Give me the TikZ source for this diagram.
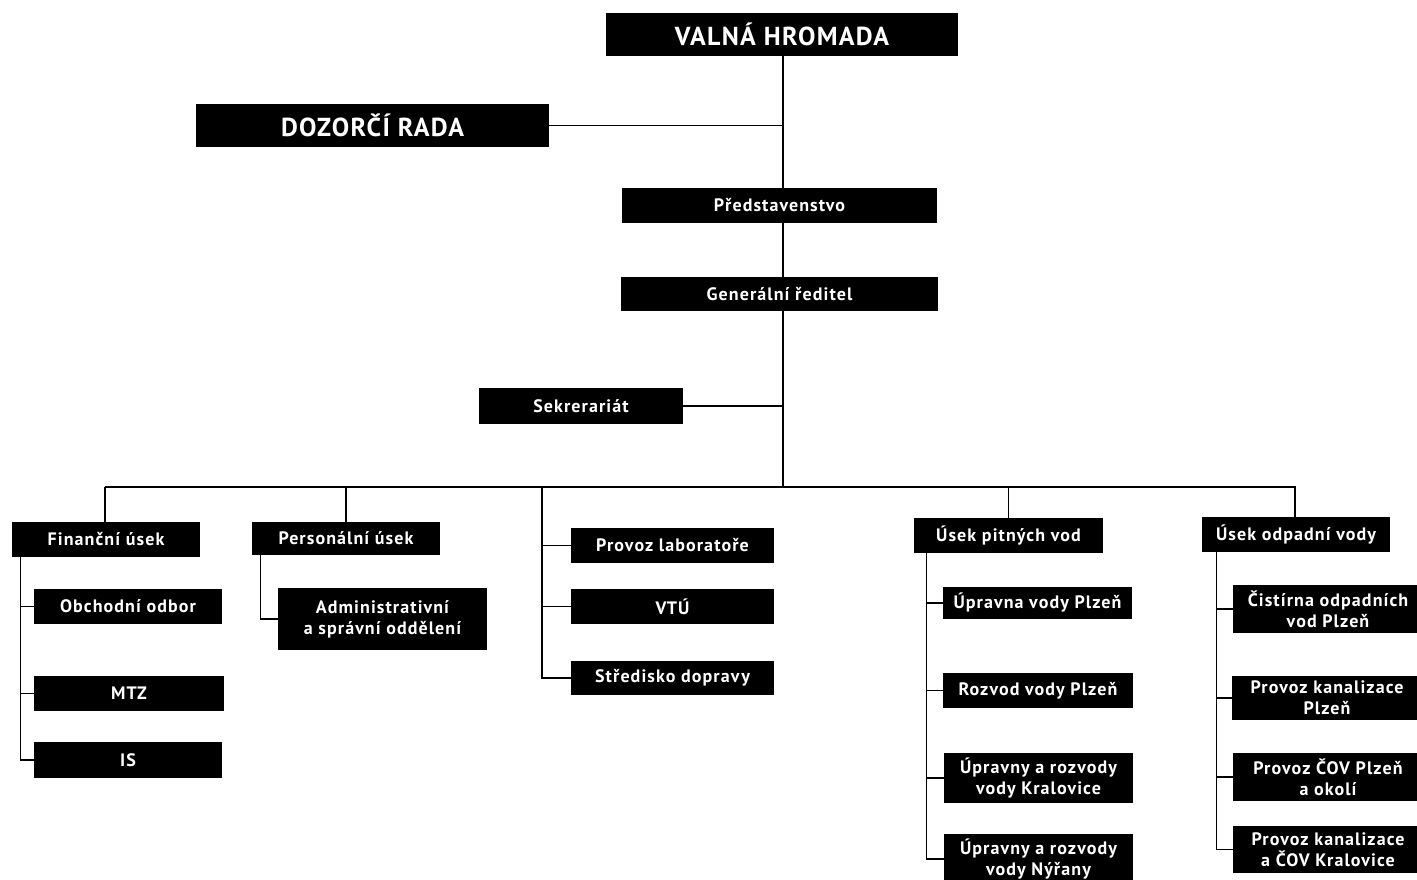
\documentclass[tikz,border=0pt]{standalone}
\usepackage{fontspec}
\setmainfont{PT Sans}
\usepackage{tikz}

\begin{document}
\begin{tikzpicture}[x=1pt, y=-1pt,
  box/.style={fill=black, text=white, inner sep=0pt, align=center,
    font=\bfseries\fontsize{18}{21}\selectfont\addfontfeatures{LetterSpace=6}},
  bigbox/.style={box, font=\bfseries\fontsize{26}{28}\selectfont\addfontfeatures{LetterSpace=5}},
  link/.style={line width=1.3pt},
  trunk/.style={line width=2.6pt}]
\useasboundingbox (0,0) rectangle (1417,879);

\node[bigbox, minimum width=352pt, minimum height=43pt] (vh) at (782,34.5) {VALNÁ HROMADA};
\node[bigbox, minimum width=353pt, minimum height=43pt] (dr) at (372.5,125.5) {DOZORČÍ RADA};
\node[box, minimum width=315pt, minimum height=35pt] (pr) at (779.5,205.5) {Představenstvo};
\node[box, minimum width=317pt, minimum height=34pt] (gr) at (779.5,294) {Generální ředitel};
\node[box, minimum width=204pt, minimum height=36pt] (sk) at (581,406) {Sekrerariát};

\node[box, minimum width=188pt, minimum height=35pt] (fu) at (106,539.5) {Finanční úsek};
\node[box, minimum width=188pt, minimum height=35pt] (oo) at (128,606.5) {Obchodní odbor};
\node[box, minimum width=190pt, minimum height=35pt] (mtz) at (129,693.5) {MTZ};
\node[box, minimum width=188pt, minimum height=36pt] (is) at (128,760) {IS};

\node[box, minimum width=188pt, minimum height=33pt] (pu) at (346,538.5) {Personální úsek};
\node[box, minimum width=209pt, minimum height=62pt] (as) at (382.5,619) {Administrativní\\a správní oddělení};

\node[box, minimum width=203pt, minimum height=35pt] (lab) at (672.5,545.5) {Provoz laboratoře};
\node[box, minimum width=203pt, minimum height=35pt] (vtu) at (672.5,606.5) {VTÚ};
\node[box, minimum width=203pt, minimum height=34pt] (sd) at (672.5,678) {Středisko dopravy};

\node[box, minimum width=189pt, minimum height=35pt] (upv) at (1008.5,535.5) {Úsek pitných vod};
\node[box, minimum width=189pt, minimum height=32pt] (uvp) at (1037.5,603) {Úpravna vody Plzeň};
\node[box, minimum width=190pt, minimum height=35pt] (rvp) at (1038,690.5) {Rozvod vody Plzeň};
\node[box, minimum width=189pt, minimum height=50pt] (urk) at (1038.5,778) {Úpravny a rozvody\\vody Kralovice};
\node[box, minimum width=189pt, minimum height=50pt] (urn) at (1038.5,859) {Úpravny a rozvody\\vody Nýřany};

\node[box, minimum width=188pt, minimum height=35pt] (uov) at (1296,534.5) {Úsek odpadní vody};
\node[box, minimum width=190pt, minimum height=48pt] (cov) at (1328,609) {Čistírna odpadních\\vod Plzeň};
\node[box, minimum width=190pt, minimum height=44pt] (pkp) at (1327,698) {Provoz kanalizace\\Plzeň};
\node[box, minimum width=190pt, minimum height=48pt] (pcp) at (1328,777) {Provoz ČOV Plzeň\\a okolí};
\node[box, minimum width=190pt, minimum height=47pt] (pkk) at (1328,849.5) {Provoz kanalizace\\a ČOV Kralovice};

\coordinate (bl) at (105,487);
\coordinate (br) at (1295,487);
\coordinate (bm) at (783,487);
\coordinate (tk) at (783,352);
\coordinate (lt) at (542,487);

\draw[link] (vh.south -| bm) -- (pr.north -| bm);
\draw[link] (pr.south -| bm) -- (gr.north -| bm);
\draw[link] (dr.east) -- (dr.east -| bm);
\draw[link] (gr.south -| bm) -- (tk);
\draw[trunk] (tk) -- (bm);
\draw[link] (sk.east) -- (sk.east -| bm);
\draw[link] (bl) -- (br) -- (uov.north -| br);
\draw[link] (bl) -- (fu.north -| bl);
\draw[link] (pu.north |- bl) -- (pu.north);
\draw[link] (upv.north |- bl) -- (upv.north);

\coordinate (ft) at ([xshift=9pt]fu.south west);
\draw[link] (ft) |- (is.west);
\foreach \n in {oo,mtz} \draw[link] (\n.west) -- (\n.west -| ft);

\coordinate (pt) at ([xshift=9pt]pu.south west);
\draw[link] (pt) |- (as.west);

\draw[link] (lt) |- (sd.west);
\foreach \n in {lab,vtu} \draw[link] (\n.west) -- (\n.west -| lt);

\coordinate (vt) at ([xshift=13pt]upv.south west);
\draw[link] (vt) |- (urn.west);
\foreach \n in {uvp,rvp,urk} \draw[link] (\n.west) -- (\n.west -| vt);

\coordinate (ot) at ([xshift=15pt]uov.south west);
\draw[link] (ot) |- (pkk.west);
\foreach \n in {cov,pkp,pcp} \draw[link] (\n.west) -- (\n.west -| ot);
\end{tikzpicture}
\end{document}
